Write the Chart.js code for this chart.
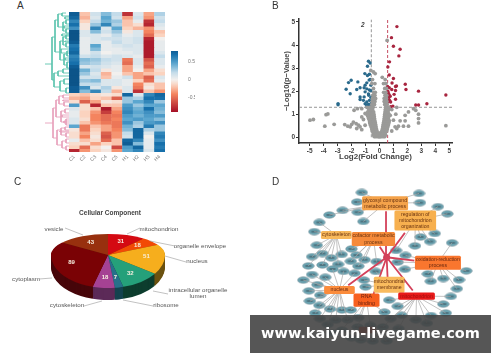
<!DOCTYPE html>
<html>
<head>
<meta charset="utf-8">
<script src="https://cdn.jsdelivr.net/npm/chart.js@4"></script>
<style>
  html, body { margin: 0; background: #fff; overflow: hidden; }
  #page { position: relative; width: 500px; height: 362px; font-family: "Liberation Sans", sans-serif; }
  canvas { position: absolute; filter: blur(0.45px); }
  .tag { position: absolute; font-size: 10px; color: #333; }
  #mark { position: absolute; left: 250px; top: 315px; width: 241px; height: 38px; text-align: center;
    background: rgba(68,68,68,0.9); color: #fff; font: bold 14.5px/37px "DejaVu Sans", sans-serif; }
</style>
</head>
<body>
<div id="page">
  <canvas id="dendro" width="24" height="140" style="left:45px;top:12px"></canvas>
  <canvas id="heat" width="116" height="166" style="left:59px;top:12px"></canvas>
  <canvas id="cbar" width="24" height="71" style="left:171px;top:46px"></canvas>
  <canvas id="volcano" width="250" height="175" style="left:250px;top:0"></canvas>
  <canvas id="pie" width="250" height="187" style="left:0;top:175px"></canvas>
  <canvas id="net" width="250" height="187" style="left:250px;top:175px"></canvas>
  <div class="tag" style="left:17px;top:0">A</div>
  <div class="tag" style="left:272px;top:0">B</div>
  <div class="tag" style="left:14px;top:176px">C</div>
  <div class="tag" style="left:272px;top:176px">D</div>
  <div id="mark">www.kaiyun-livegame.com</div>
</div>
<script>
const heatCols = ['C1', 'C2', 'C3', 'C4', 'C5', 'H1', 'H2', 'H3', 'H4'];
const heatRows = [
  [.8, -.2, .15, .35, .2, -.75, .1, -.3, .25],
  [.75, -.25, .1, .45, .15, -.3, .15, -.35, .15],
  [.6, -.15, .2, .4, .3, -.2, .05, -.75, .2],
  [.7, -.05, .3, .6, .25, -.2, -.1, -.8, .1],
  [.55, -.05, .6, .1, .45, -.15, -.25, -.35, .05],
  [.85, .1, .35, .15, .3, -.05, .1, -.4, -.2],
  [.85, .1, .1, .05, .2, .05, .1, -.5, -.15],
  [.85, .05, .1, .15, .15, .1, .15, -.8, 0],
  [.8, .05, .1, .05, .2, .1, .15, -.85, .05],
  [.65, .05, .45, .05, .1, .15, .1, -.85, .05],
  [.7, .05, .35, .05, .05, .1, .1, -.85, .05],
  [.75, .05, .15, 0, .05, .05, .1, -.85, .1],
  [.6, .15, .2, .1, .15, .1, .05, -.85, .2],
  [.65, .35, .3, .2, .15, -.45, .1, -.6, .1],
  [.7, .3, .25, .15, .1, -.5, .1, -.5, .1],
  [.8, .1, .15, .1, .05, -.3, .05, -.55, .05],
  [.85, .4, .2, -.05, .05, -.3, 0, -.3, -.1],
  [.85, .3, .1, -.25, 0, -.2, -.3, -.2, -.15],
  [.85, .15, .15, -.2, .05, .15, -.3, -.55, .1],
  [.85, .3, .35, .1, .1, .05, -.15, -.5, .05],
  [.85, .2, .2, .1, .1, .05, -.4, -.1, -.2],
  [.8, .55, .1, .25, -.05, .1, -.45, -.05, -.2],
  [.8, .35, .6, .2, -.25, .1, -.75, -.2, -.35],
  [-.15, -.2, -.1, -.05, -.1, .75, .1, .6, .75],
  [-.25, -.3, -.15, -.2, -.55, .3, .25, .7, .7],
  [-.1, -.55, -.3, -.05, -.1, .3, .45, .6, .3],
  [.5, -.1, -.8, -.2, -.2, .5, .3, .45, .45],
  [.1, -.1, -.2, -.85, -.3, .55, .4, .7, .4],
  [.05, -.15, -.35, -.7, -.4, .6, .45, .55, .35],
  [.05, -.15, -.4, -.5, -.45, .5, .4, .5, .5],
  [.1, -.1, -.4, -.5, -.4, .45, .5, .45, .35],
  [.1, -.2, -.35, -.45, -.45, .55, .3, .5, .55],
  [.45, -.45, -.2, -.3, -.45, .4, .25, .65, .3],
  [-.05, -.45, -.15, -.3, -.4, .35, .75, .25, .3],
  [-.1, -.3, -.1, -.55, -.35, .2, .75, .1, .6],
  [-.1, -.4, -.05, -.6, -.35, .15, .75, 0, .65],
  [.05, -.2, -.1, -.5, -.2, .75, .6, .05, .55],
  [-.1, -.1, -.3, -.15, -.2, .8, .35, .05, .7],
  [-.15, -.5, -.1, 0, -.65, .5, .75, .05, .65],
  [-.8, -.35, -.15, -.05, -.35, .45, .6, .1, .7]
];
const colorTicks = [-.5, 0, .5];
// dendrogram brackets: parent height, child height + row for each child
const tealTree = [
  [45, 52, 64, 45, 64], [52, 55, 37, 54, 80], [55, 58, 20, 60, 52], [58, 62, 14, 63, 27],
  [62, 66, 13, 69, 16], [63, 66, 22, 66, 31], [66, 69, 20, 69, 24], [66, 69, 29, 69, 33],
  [60, 63, 41, 64, 60], [63, 66, 37, 66, 45], [66, 69, 35, 69, 39], [66, 69, 43, 69, 47],
  [64, 67, 54, 67, 65], [67, 69, 51, 69, 56], [67, 69, 62, 69, 68], [54, 58, 73, 60, 87],
  [58, 63, 71, 69, 76], [63, 69, 69, 69, 73], [60, 64, 81, 66, 91], [64, 69, 79, 69, 84], [66, 69, 88, 69, 93],
  [65, 69, 17, 69, 19], [64, 69, 26, 69, 28], [62, 69, 34, 69, 36], [65, 69, 41, 69, 42], [61, 69, 49, 69, 53], [65, 69, 58, 69, 60]
];
const pinkTree = [
  [45, 53, 123, 45, 123], [53, 56, 108, 57, 138], [56, 59, 100, 61, 117], [59, 63, 96, 64, 104],
  [63, 69, 95, 69, 98], [64, 69, 102, 69, 106], [61, 65, 111, 66, 122], [65, 69, 109, 69, 113],
  [66, 69, 119, 69, 125], [57, 61, 130, 62, 145], [61, 65, 128, 66, 135], [65, 69, 127, 69, 130],
  [66, 69, 133, 69, 137], [62, 66, 141, 66, 148], [66, 69, 139, 69, 143], [66, 69, 146, 69, 150],
  [62, 69, 115, 69, 117], [63, 69, 100, 69, 101], [64, 69, 121, 69, 123], [60, 69, 131, 69, 132]
];

const volXTicks = [-5, -4, -3, -2, -1, 0, 1, 2, 3, 4, 5];
const volYTicks = [0, 1, 2, 3, 4, 5];
const cutX = 0.585;
const cutY = 1.3;
// gray cloud, one row per -log10(p) level
const grayRows = [
  [.03, [-.3, -.2, -.1, 0, .1, .2, .3, -.38, .38, -.05, .05]],
  [.1, [-.42, -.34, -.24, -.15, -.07, .02, .09, .17, .26, .35, .44]],
  [.18, [-.45, -.38, -.3, -.2, -.12, -.03, .06, .12, .2, .3, .41]],
  [.27, [-.52, -.44, -.36, -.26, -.18, .17, .27, .36, .44, .52]],
  [.36, [-.55, -.47, -.38, -.3, -.22, .21, .3, .38, .47, .56]],
  [.45, [-.6, -.52, -.42, -.33, -.25, .24, .33, .42, .5, .6]],
  [.54, [-.66, -.56, -.45, -.35, -.27, .26, .36, .46, .55, .64]],
  [.63, [-.7, -.6, -.5, -.38, -.3, .29, .38, .48, .58, .68]],
  [.72, [-.72, -.65, -.53, -.42, -.33, .32, .42, .52, .6, .7]],
  [.81, [-.78, -.7, -.56, -.45, -.36, .34, .45, .55, .63]],
  [.9, [-.82, -.75, -.6, -.47, -.38, .36, .46, .56, .66]],
  [1.0, [-.86, -.8, -.62, -.5, -.4, .38, .5, .6, .68]],
  [1.1, [-.84, -.66, -.53, -.42, .4, .52, .62]],
  [1.2, [-.76, -.62, -.5, .42, .54, .66]],
  [1.3, [-.9, -.72, -.58, -.46, .44, .56, .68]],
  [1.42, [-.55, -.47, -.36, .38, .47, .55]],
  [1.55, [-.52, -.44, -.33, .34, .42, .53]],
  [1.68, [-.5, -.4, -.28, .34, .5]],
  [1.82, [-.47, -.33, .4, .52]],
  [1.95, [-.42, -.3, .3, .45]],
  [2.12, [-.43, .38, .5]],
  [2.33, [-.55, -.33, .29, .46]],
  [2.5, [-.5, .41]]
];
const grayOut = [
  [-4.98, .74], [-4.74, .77], [-3.83, .98], [-3.7, 1.01], [-3.92, .48], [-3.25, .56], [-2.49, .55], [-2.27, .48],
  [-2.1, .45], [-1.87, .66], [-1.67, .59], [-1.5, .52], [-1.63, .38], [-1.39, .45], [-1.27, .33], [-1.03, .52],
  [-1.15, .77], [-1.27, .88], [-1.82, 1.17], [-1.58, 1.24], [-1.27, 1.24], [-1.03, 1.03], [-.86, .95], [-1.99, .56],
  [1.17, 1], [1.84, .95], [2.08, 1.1], [2.44, 1.24], [2.6, 1.17], [2.8, 1], [2.8, .81], [2.8, .62], [4.76, .5],
  [1.48, .71], [1.84, .71], [2.08, .48], [1.72, .48], [1.36, .48], [1.12, .45], [.88, .27], [1.24, .38], [1, .74],
  [.77, .95], [.88, 1.2], [1.24, 1.3], [-.43, 2.83], [-.31, 2.76], [-.62, 2.9], [.55, 4.2], [.2, 2.6]
];
const bluePts = [
  [-.79, 3.3], [-.67, 3.22], [-.86, 3.08], [-1.05, 2.76], [-.72, 2.73], [-.86, 2.68], [-2.03, 2.47], [-2.22, 2.37],
  [-1.55, 2.4], [-2.39, 2.08], [-2.1, 1.89], [-1.63, 2.07], [-1.39, 2.15], [-2.97, 1.46], [-2.97, 1.41], [-1.03, 2.26],
  [-.91, 2.36], [-.74, 2.48], [-.67, 2.51], [-.62, 2.26], [-1.1, 2.15], [-.91, 2.1], [-.72, 2.05], [-.62, 2.02],
  [-1.03, 1.97], [-.79, 1.88], [-1.39, 1.75], [-1.1, 1.75], [-.77, 1.82], [-.62, 1.72], [-1.39, 1.64], [-1.15, 1.6],
  [-.91, 1.53], [-.72, 1.6], [-1.03, 1.45], [-.91, 1.38], [-.79, 1.31], [-.62, 1.45], [-.67, 1.34], [-.86, 1.31],
  [-.8, 1.42], [-.72, 1.38]
];
const redPts = [
  [1.25, 4.8], [.86, 4.32], [1, 3.95], [1.48, 3.82], [1.39, 3.53], [.72, 3.27], [.6, 3.05], [.7, 2.7], [1, 2.55],
  [.9, 2.35], [1.15, 2.2], [1.85, 2.3], [1.9, 2.07], [2.8, 2], [4.76, 1.83], [3.4, 1.45], [2.6, 1.4], [2.8, 1.4],
  [1.15, 2.03], [.88, 2.07], [.7, 2.15], [.58, 2.2], [1.05, 1.86], [.77, 1.78], [.7, 1.82], [.65, 1.72], [.72, 1.6],
  [.6, 1.53], [.65, 1.9], [.6, 2], [.8, 1.53], [.96, 1.35], [1.15, 1.65], [.8, 1.32], [1.22, 2.22], [.66, 1.66]
];

const pieNames = ['mitochondrion', 'organelle envelope', 'nucleus', 'intracellular organelle lumen', 'ribosome', 'cytoskeleton', 'cytoplasm', 'vesicle'];
const pieCounts = [31, 18, 51, 32, 7, 18, 89, 43];
const pieTop = ['#d40a12', '#f24a05', '#f6ae1d', '#25a07a', '#27708a', '#a54293', '#7a0205', '#98300e'];
const pieSide = ['#6e0a0c', '#7a2a05', '#6b5210', '#0d3d2e', '#14434f', '#5c2a58', '#47060a', '#4f1a08'];

// network, in panel coordinates 0-750 / 0-561
const procBoxes = [
  { c: [407, 69], s: [138, 42], fill: '#f4a24a', ink: '#6b3410', lines: ['glycosyl compound', 'metabolic process'] },
  { c: [503, 125], s: [125, 60], fill: '#f7b04f', ink: '#6b3410', lines: ['regulation of', 'mitochondrion', 'organization'] },
  { c: [252, 172], s: [92, 24], fill: '#f8b95b', ink: '#6b3410', lines: ['cytoskeleton'] },
  { c: [370, 185], s: [130, 42], fill: '#f58a3a', ink: '#6b3410', lines: ['cofactor metabolic', 'process'] },
  { c: [575, 262], s: [138, 42], fill: '#f9762e', ink: '#6b2a10', lines: ['oxidation-reduction', 'process'] },
  { c: [420, 333], s: [92, 48], fill: '#f9bb5e', ink: '#6b3410', lines: ['mitochondrial', 'membrane'] },
  { c: [262, 350], s: [92, 24], fill: '#fb8c3c', ink: '#6b2a10', lines: ['nucleus'] },
  { c: [348, 383], s: [78, 40], fill: '#f8601f', ink: '#6b2010', lines: ['RNA', 'binding'] },
  { c: [507, 370], s: [110, 22], fill: '#e81a1a', ink: '#a01010', lines: ['mitochondrion'] },
  { c: [350, 480], s: [50, 20], fill: '#c4281a', ink: '#801010', lines: [] }
];
const netGroups = [
  [[333, 34], [318, 65], [272, 92], [320, 98], [230, 107], [515, 37], [518, 67], [338, 128]],
  [[575, 80], [605, 103], [565, 167], [520, 178], [550, 193], [502, 207], [442, 222]],
  [[198, 131], [182, 161], [190, 205], [208, 232], [269, 235], [175, 242], [236, 246], [163, 272], [208, 269], [258, 267]],
  [[300, 217], [316, 237], [298, 257], [342, 252], [380, 258], [322, 273]],
  [[620, 197], [472, 238], [447, 260], [470, 283], [665, 288], [543, 298], [592, 313], [552, 322], [642, 317], [635, 346]],
  [[377, 290], [340, 318], [345, 340]],
  [[240, 282], [275, 290], [310, 296], [175, 300], [217, 309], [147, 318], [192, 333], [165, 353], [201, 367], [168, 386], [198, 400], [232, 412], [270, 415], [185, 425], [200, 443], [250, 448], [288, 447], [225, 462]],
  [[298, 415], [322, 440], [405, 422], [270, 480], [320, 470], [360, 465]],
  [[616, 371], [592, 396], [447, 403], [460, 432], [600, 425], [553, 433], [425, 443], [505, 447], [540, 458], [400, 470], [450, 475], [420, 383]],
  [[300, 505], [330, 512], [368, 516], [412, 516], [240, 490]]
];
const hubNode = [412, 244];
const hubTargets = [[410, 95], [470, 165], [390, 210], [500, 255], [290, 335], [415, 310], [495, 352], [370, 365]];

function heatColor(v) {
  const stops = [[-.9, [165, 15, 38]], [-.4, [244, 132, 95]], [-.15, [251, 211, 191]], [0, [242, 240, 238]],
    [.2, [196, 220, 234]], [.45, [91, 166, 207]], [.7, [23, 112, 171]], [.9, [8, 74, 126]]];
  for (let i = 1; i < stops.length; i++) {
    if (v <= stops[i][0]) {
      const t = (v - stops[i - 1][0]) / (stops[i][0] - stops[i - 1][0]);
      const c = stops[i - 1][1].map((a, k) => Math.round(a + (stops[i][1][k] - a) * t));
      return `rgb(${c[0]},${c[1]},${c[2]})`;
    }
  }
  return 'rgb(8,74,126)';
}

function treeSegments(tree) {
  const out = [];
  tree.forEach(([p, a, ya, b, yb]) => {
    out.push({ x: a, y: ya }, { x: p, y: ya }, { x: p, y: yb }, { x: b, y: yb }, { x: null, y: null });
  });
  return out;
}

new Chart(document.getElementById('dendro'), {
  type: 'scatter',
  data: {
    datasets: [
      { data: treeSegments(tealTree), showLine: true, borderColor: '#5cc4ae', borderWidth: 0.9, pointRadius: 0 },
      { data: treeSegments(pinkTree), showLine: true, borderColor: '#e8a0bb', borderWidth: 0.9, pointRadius: 0 }
    ]
  },
  options: {
    responsive: false, animation: false,
    plugins: { legend: { display: false }, tooltip: { enabled: false } },
    scales: {
      x: { display: false, min: 45, max: 69 },
      y: { display: false, min: 12, max: 152, reverse: true }
    }
  }
});

// floating bars overlap a little so no white seams show between cells
new Chart(document.getElementById('heat'), {
  type: 'bar',
  data: {
    labels: heatCols,
    datasets: heatRows.map((r, i) => ({
      data: r.map(() => [i, i + 1.15]),
      backgroundColor: r.map(heatColor),
      borderWidth: 0,
      barPercentage: 1.03,
      categoryPercentage: 1
    }))
  },
  options: {
    responsive: false, animation: false,
    layout: { padding: { left: 10, right: 10 } },
    plugins: { legend: { display: false }, tooltip: { enabled: false } },
    scales: {
      x: {
        stacked: true,
        grid: { display: false, drawTicks: false },
        border: { display: false },
        afterFit: s => { s.height = 26; },
        ticks: { color: '#777', font: { size: 5 }, minRotation: 45, maxRotation: 45, padding: 2, autoSkip: false }
      },
      y: { display: false, min: 0, max: heatRows.length, reverse: true }
    }
  }
});

new Chart(document.getElementById('cbar'), {
  type: 'bar',
  data: {
    labels: [''],
    datasets: [{
      data: [[-.9, .8]],
      barPercentage: 1,
      categoryPercentage: 1,
      backgroundColor: ctx => {
        const a = ctx.chart.chartArea;
        if (!a) return '#ccc';
        const y = ctx.chart.scales.y;
        const g = ctx.chart.ctx.createLinearGradient(0, a.top, 0, a.bottom);
        for (let i = 0; i <= 17; i++) {
          const v = .8 - i / 10;
          g.addColorStop((y.getPixelForValue(v) - a.top) / (a.bottom - a.top), heatColor(v));
        }
        return g;
      }
    }]
  },
  options: {
    responsive: false, animation: false,
    layout: { padding: { top: 3, bottom: 3 } },
    plugins: { legend: { display: false }, tooltip: { enabled: false } },
    scales: {
      x: { display: false },
      y: {
        position: 'right', min: -.9, max: .8,
        grid: { display: false },
        border: { display: false },
        afterBuildTicks: s => { s.ticks = colorTicks.map(v => ({ value: v })); },
        afterFit: s => { s.width = 17; },
        ticks: { color: '#777', font: { size: 5 }, padding: 2 }
      }
    }
  }
});

const grayPts = grayRows.flatMap(([y, xs]) => xs.map(x => [x, y])).concat(grayOut);
const toXY = list => list.map(([x, y]) => ({ x, y }));
const dots = (list, color, r) => ({ data: toXY(list), backgroundColor: color, borderWidth: 0, pointRadius: r });
const dashed = (list, color) => ({ data: toXY(list), showLine: true, borderColor: color, borderWidth: 0.9, borderDash: [3, 2], pointRadius: 0 });

new Chart(document.getElementById('volcano'), {
  type: 'scatter',
  data: {
    datasets: [
      dots(grayPts, '#9a9a98', 1.9),
      dots(bluePts, '#2a6a8c', 1.7),
      dots(redPts, '#a8253f', 1.7),
      dashed([[-5.77, cutY], [5.2, cutY]], '#8a8a8a'),
      dashed([[-cutX, 0], [-cutX, 5.1]], '#8a8a8a'),
      dashed([[cutX, -.25], [cutX, 5.1]], '#c0394f')
    ]
  },
  options: {
    responsive: false, animation: false,
    layout: { padding: { left: 32, right: 48, top: 19, bottom: 13 } },
    plugins: {
      legend: { display: false },
      tooltip: { enabled: false }
    },
    scales: {
      x: {
        min: -5.77, max: 5.2,
        grid: { drawOnChartArea: false, tickLength: 3, color: '#333' },
        border: { color: '#333', width: 1.5 },
        afterBuildTicks: s => { s.ticks = volXTicks.map(v => ({ value: v })); },
        afterFit: s => { s.height = 19; },
        ticks: { color: '#444', font: { size: 6.5, weight: 'bold' }, padding: 1, autoSkip: false },
        title: { display: true, text: 'Log2(Fold Change)', color: '#444', font: { size: 8, weight: 'bold' }, padding: 0 }
      },
      y: {
        min: -.25, max: 5.13,
        grid: { drawOnChartArea: false, tickLength: 3, color: '#333' },
        border: { color: '#333', width: 1.5 },
        afterBuildTicks: s => { s.ticks = volYTicks.map(v => ({ value: v })); },
        afterFit: s => { s.width = 17; },
        ticks: { color: '#444', font: { size: 6.5, weight: 'bold' }, padding: 1, autoSkip: false },
        title: { display: true, text: '\u2212Log10(p\u2212Value)', color: '#444', font: { size: 7.5, weight: 'bold' }, padding: 0 }
      }
    }
  },
  plugins: [{
    id: 'note',
    afterDatasetsDraw(chart) {
      const c = chart.ctx;
      c.save();
      c.fillStyle = '#444';
      c.font = 'italic bold 6.5px "Liberation Sans"';
      c.textAlign = 'center';
      c.fillText('2', chart.scales.x.getPixelForValue(-1.2), chart.scales.y.getPixelForValue(4.77));
      c.restore();
    }
  }]
});

// pie drawn flattened, nearer half taller than the far half, darker copies below it make the wall
const squashFar = 0.37;
const squashNear = 0.58;
const wallDepth = 12;
const pieLabels = [
  { text: ['Cellular Component'], at: [110, 38], font: 'bold 6.5px "Liberation Sans"', ink: '#444' },
  { text: ['vesicle'], at: [54, 54], line: [[65, 53], [83, 60]] },
  { text: ['mitochondrion'], at: [159, 54], line: [[140, 53], [127, 59]] },
  { text: ['organelle envelope'], at: [200, 71], line: [[175, 71], [150, 66]] },
  { text: ['nucleus'], at: [197, 86], line: [[186, 87], [165, 81]] },
  { text: ['cytoplasm'], at: [26, 104], line: [[39, 104], [52, 103]] },
  { text: ['intracellular organelle', 'lumen'], at: [198, 115], line: [[168, 119], [153, 116]] },
  { text: ['cytoskeleton'], at: [67, 130], line: [[84, 131], [102, 126]] },
  { text: ['ribosome'], at: [166, 130], line: [[153, 131], [123, 125]] }
];

function drawFlat(chart, shift, colors) {
  const c = chart.ctx;
  const arcs = chart.getDatasetMeta(0).data;
  const cy = arcs[0].y;
  [[0, cy + shift, squashFar], [cy + shift, chart.height, squashNear]].forEach(([y0, y1, sq]) => {
    c.save();
    c.beginPath();
    c.rect(0, y0, chart.width, y1 - y0);
    c.clip();
    c.translate(0, cy + shift);
    c.scale(1, sq);
    c.translate(0, -cy);
    arcs.forEach((a, i) => {
      a.options.backgroundColor = colors[i];
      a.draw(c);
    });
    c.restore();
  });
}

new Chart(document.getElementById('pie'), {
  type: 'pie',
  data: {
    labels: pieNames,
    datasets: [{ data: pieCounts, backgroundColor: pieTop, borderWidth: 0 }]
  },
  options: {
    responsive: false, animation: false,
    layout: { padding: { left: 51, right: 85, top: 23, bottom: 50 } },
    plugins: { legend: { display: false }, tooltip: { enabled: false } }
  },
  plugins: [{
    id: 'flatPie',
    beforeDatasetsDraw(chart) {
      for (let d = wallDepth; d > 0; d--) drawFlat(chart, d, pieSide);
      drawFlat(chart, 0, pieTop);
      const c = chart.ctx;
      const arcs = chart.getDatasetMeta(0).data;
      const cy = arcs[0].y;
      c.save();
      c.textAlign = 'center';
      c.textBaseline = 'middle';
      c.font = 'bold 6px "Liberation Sans"';
      c.fillStyle = '#f7efe0';
      arcs.forEach((a, i) => {
        const p = a.getCenterPoint();
        const dy = p.y - cy;
        c.fillText(pieCounts[i], a.x + (p.x - a.x) * 1.35, cy + dy * 1.35 * (dy < 0 ? squashFar : squashNear));
      });
      pieLabels.forEach(l => {
        c.font = l.font || '6.2px "Liberation Sans"';
        c.fillStyle = l.ink || '#555';
        l.text.forEach((t, k) => c.fillText(t, l.at[0], l.at[1] + k * 6));
        c.strokeStyle = '#999';
        c.lineWidth = 0.6;
        if (l.line) {
          c.beginPath();
          c.moveTo(l.line[0][0], l.line[0][1]);
          c.lineTo(l.line[1][0], l.line[1][1]);
          c.stroke();
        }
      });
      c.restore();
      return false;
    }
  }]
});

const nodeSprite = document.createElement('canvas');
nodeSprite.width = 13;
nodeSprite.height = 8;
{
  const s = nodeSprite.getContext('2d');
  s.fillStyle = '#6aa3b1';
  s.strokeStyle = '#7f97a0';
  s.lineWidth = 0.6;
  s.beginPath();
  s.ellipse(6.5, 4, 5.8, 3.3, 0, 0, Math.PI * 2);
  s.fill();
  s.stroke();
  s.fillStyle = '#3f5b66';
  s.fillRect(3.5, 3.4, 6, 1.2);
}

const netEdges = [];
netGroups.forEach((group, i) => {
  group.forEach(([x, y]) => {
    netEdges.push({ x: procBoxes[i].c[0], y: procBoxes[i].c[1] }, { x, y }, { x: null, y: null });
  });
});
const hubEdges = hubTargets.flatMap(([x, y]) => [{ x: hubNode[0], y: hubNode[1] }, { x, y }, { x: null, y: null }]);

new Chart(document.getElementById('net'), {
  type: 'scatter',
  data: {
    datasets: [
      { data: netEdges, showLine: true, borderColor: '#a8a8a8', borderWidth: 0.7, pointRadius: 0 },
      { data: hubEdges, showLine: true, borderColor: '#d4415a', borderWidth: 1.8, pointRadius: 0 },
      { data: toXY(netGroups.flat()), pointStyle: nodeSprite, pointRadius: 6 },
      { data: toXY([hubNode]), backgroundColor: '#c9405a', borderWidth: 0, pointRadius: 3.5 }
    ]
  },
  options: {
    responsive: false, animation: false,
    plugins: { legend: { display: false }, tooltip: { enabled: false } },
    scales: {
      x: { display: false, min: 0, max: 750 },
      y: { display: false, min: 0, max: 561, reverse: true }
    }
  },
  plugins: [{
    id: 'boxes',
    afterDatasetsDraw(chart) {
      const c = chart.ctx, X = chart.scales.x, Y = chart.scales.y;
      c.save();
      c.textAlign = 'center';
      c.textBaseline = 'middle';
      c.font = '5.2px "Liberation Sans"';
      procBoxes.forEach(b => {
        const w = b.s[0] / 3, h = b.s[1] / 3;
        const x = X.getPixelForValue(b.c[0]), y = Y.getPixelForValue(b.c[1]);
        c.fillStyle = b.fill;
        c.beginPath();
        c.roundRect(x - w / 2, y - h / 2, w, h, 1.5);
        c.fill();
        c.fillStyle = b.ink;
        b.lines.forEach((t, k) => c.fillText(t, x, y + (k - (b.lines.length - 1) / 2) * 6.2));
      });
      c.restore();
    }
  }]
});
</script>
</body>
</html>
